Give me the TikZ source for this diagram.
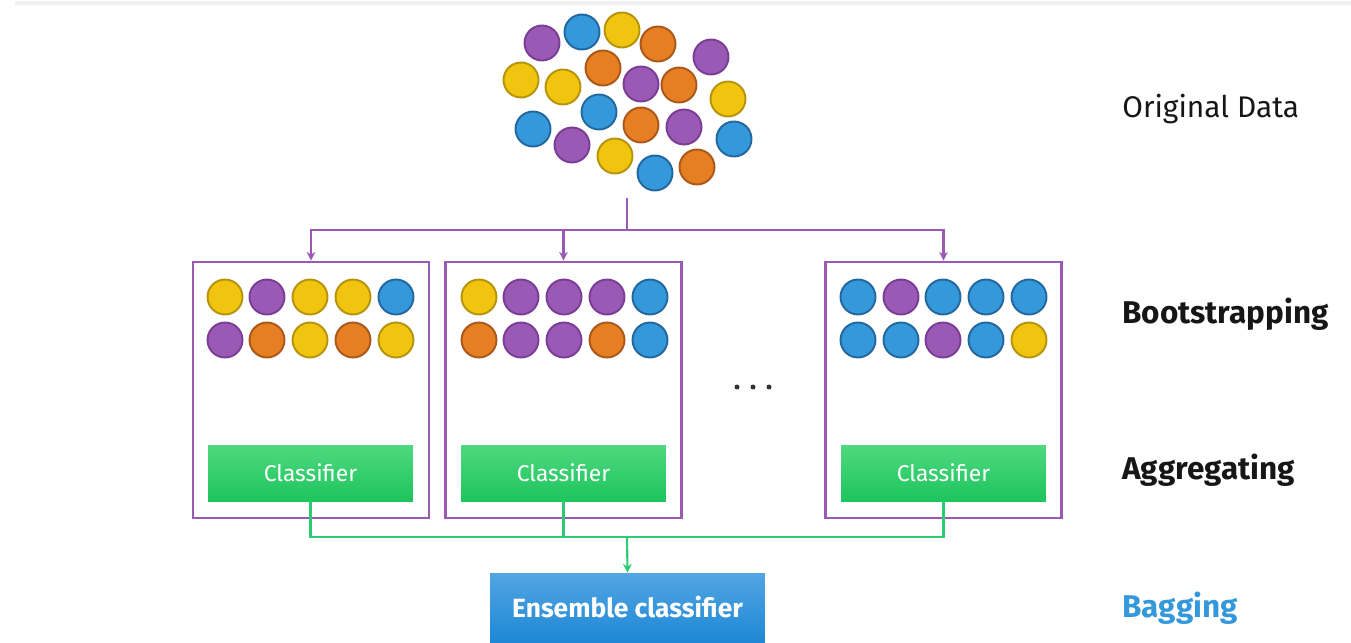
\documentclass[tikz,border=0pt]{standalone}
\usepackage{fontspec}
\setmainfont{Fira Sans}
\usetikzlibrary{arrows.meta}
\definecolor{purpfill}{HTML}{9B59B6}
\definecolor{purpline}{HTML}{7A3D96}
\definecolor{bluefill}{HTML}{3498DB}
\definecolor{blueline}{HTML}{22689E}
\definecolor{yelfill}{HTML}{F1C40F}
\definecolor{yelline}{HTML}{B5930B}
\definecolor{orafill}{HTML}{E67E22}
\definecolor{oraline}{HTML}{A9571A}
\definecolor{framepurp}{HTML}{9B59B6}
\definecolor{linkgreen}{HTML}{2ECC71}
\definecolor{clftop}{HTML}{4ED97F}
\definecolor{clfbot}{HTML}{1EC45D}
\definecolor{enstop}{HTML}{52A5E2}
\definecolor{ensbot}{HTML}{1E88D6}
\definecolor{labelink}{HTML}{161616}
\definecolor{baggingblue}{HTML}{3498DB}
\begin{document}
\begin{tikzpicture}[x=0.02cm,y=-0.02cm,
    dot/.style={circle,minimum size=0.7cm,inner sep=0pt,line width=1.1pt},
    pu/.style={dot,fill=purpfill,draw=purpline},
    bl/.style={dot,fill=bluefill,draw=blueline},
    ye/.style={dot,fill=yelfill,draw=yelline},
    or/.style={dot,fill=orafill,draw=oraline},
    sample/.style={draw=framepurp,line width=1.6pt,minimum width=4.72cm,minimum height=5.12cm,inner sep=0pt},
    clf/.style={top color=clftop,bottom color=clfbot,minimum width=4.1cm,minimum height=1.12cm,inner sep=0pt,text=white,font=\fontsize{13}{15}\selectfont},
    lbl/.style={anchor=base west,inner sep=0pt,font=\fontsize{17}{20}\selectfont,text=labelink},
    stage/.style={lbl,font=\fontsize{17.9}{21}\selectfont\bfseries},
    ellip/.style={circle,fill=black!80,minimum size=0.1cm,inner sep=0pt}
  ]
  \useasboundingbox (0,0) rectangle (1351,642);
  \draw[line width=2.2pt,draw=black!6] (15,3) -- (1351,3);

  % original data
  \path
    (542,43) node[pu] (d1){}
    (582,32) node[bl] (d2){}
    (622,30) node[ye] (d3){}
    (658,44) node[or] (d4){}
    (711,57) node[pu] (d5){}
    (521,80) node[ye] (d6){}
    (563,87) node[ye] (d7){}
    (603,68) node[or] (d8){}
    (641,84) node[pu] (d9){}
    (679,85) node[or] (d10){}
    (728,99) node[ye] (d11){}
    (533,129) node[bl] (d12){}
    (599,112) node[bl] (d13){}
    (641,125) node[or] (d14){}
    (684,127) node[pu] (d15){}
    (734,139) node[bl] (d16){}
    (572,145) node[pu] (d17){}
    (615,156) node[ye] (d18){}
    (655,173) node[bl] (d19){}
    (697,167) node[or] (d20){};
  \coordinate (top) at (627,198);
  \coordinate (split) at (627,230);

  % bootstrap samples
  \node[sample] (s1) at (311,390) {};
  \node[sample] (s2) at (563.5,390) {};
  \node[sample] (s3) at (943.5,390) {};
  \path
    (225,297) node[ye] (a1){}
    (267,297) node[pu] (a2){}
    (310,297) node[ye] (a3){}
    (353,297) node[ye] (a4){}
    (396,297) node[bl] (a5){}
    (225,340) node[pu] (a6){}
    (267,340) node[or] (a7){}
    (310,340) node[ye] (a8){}
    (353,340) node[or] (a9){}
    (396,340) node[ye] (a10){}
    (479,297) node[ye] (b1){}
    (521,297) node[pu] (b2){}
    (564,297) node[pu] (b3){}
    (607,297) node[pu] (b4){}
    (650,297) node[bl] (b5){}
    (479,340) node[or] (b6){}
    (521,340) node[pu] (b7){}
    (564,340) node[pu] (b8){}
    (607,340) node[or] (b9){}
    (650,340) node[bl] (b10){}
    (858,297) node[bl] (c1){}
    (901,297) node[pu] (c2){}
    (943,297) node[bl] (c3){}
    (986,297) node[bl] (c4){}
    (1029,297) node[bl] (c5){}
    (858,340) node[bl] (c6){}
    (901,340) node[bl] (c7){}
    (943,340) node[pu] (c8){}
    (986,340) node[bl] (c9){}
    (1029,340) node[ye] (c10){};
  \node[ellip] (e1) at (737,387) {};
  \node[ellip] (e2) at (753,387) {};
  \node[ellip] (e3) at (769,387) {};

  % classifiers
  \node[clf] (k1) at (310.5,473) {\raisebox{1pt}{Classifier}};
  \node[clf] (k2) at (563.5,473) {\raisebox{1pt}{Classifier}};
  \node[clf] (k3) at (943.5,473) {\raisebox{1pt}{Classifier}};
  \coordinate (join) at (627,537);
  \node[top color=enstop,bottom color=ensbot,minimum width=5.5cm,minimum height=1.38cm,inner sep=0pt,
        text=white,font=\fontsize{15}{17}\selectfont\bfseries] (ens) at (627.5,607.5) {Ensemble classifier};

  % labels
  \node[lbl] (l1) at (1122,117) {Original Data};
  \node[stage] (l2) at (1122,323) {Bootstrapping};
  \node[stage] (l3) at (1122,479) {Aggregating};
  \node[stage,text=baggingblue] (l4) at (1122,617) {Bagging};

  \begin{scope}[draw=framepurp,line width=1.2pt,-{Stealth[length=5pt,width=5pt]}]
    \draw[-] (top) -- (split);
    \draw (split) -| (s1.north);
    \draw (split) -| (s2.north);
    \draw (split) -| (s3.north);
  \end{scope}
  \begin{scope}[draw=linkgreen,line width=1.2pt]
    \draw (k1.south) |- (join);
    \draw (k2.south) |- (join);
    \draw (k3.south) |- (join);
    \draw[-{Stealth[length=5pt,width=5pt]}] (join) -- (ens.north);
  \end{scope}
\end{tikzpicture}
\end{document}
